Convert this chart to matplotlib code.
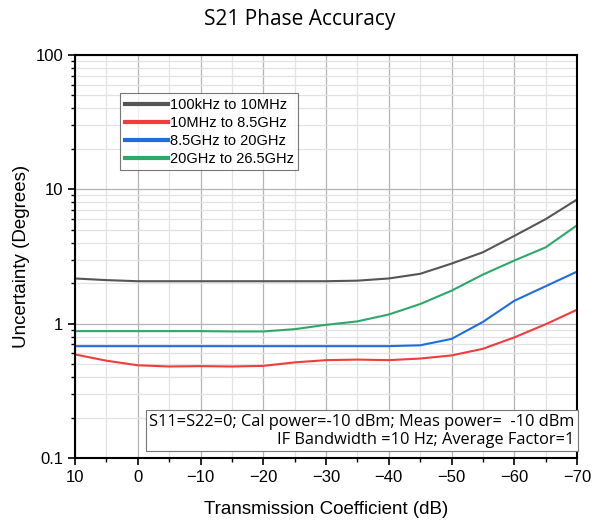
import matplotlib.pyplot as plt
from matplotlib.ticker import LogLocator, MultipleLocator, FixedLocator, NullFormatter

# transmission coefficient (dB)
tc = [10, 5, 0, -5, -10, -15, -20, -25, -30, -35, -40, -45, -50, -55, -60, -65, -70]

low = [2.17, 2.11, 2.07, 2.07, 2.07, 2.07, 2.07, 2.07, 2.07, 2.09, 2.17, 2.35, 2.8, 3.4, 4.5, 6.0, 8.4]
mid = [0.59, 0.53, 0.49, 0.48, 0.483, 0.48, 0.485, 0.515, 0.535, 0.54, 0.535, 0.55, 0.58, 0.65, 0.79, 0.99, 1.27]
high = [0.68, 0.68, 0.68, 0.68, 0.68, 0.68, 0.68, 0.68, 0.68, 0.68, 0.68, 0.69, 0.77, 1.03, 1.48, 1.9, 2.44]
top = [0.88, 0.88, 0.88, 0.88, 0.88, 0.875, 0.875, 0.91, 0.98, 1.04, 1.17, 1.40, 1.76, 2.32, 2.95, 3.7, 5.4]

labels = ['100kHz to 10MHz', '10MHz to 8.5GHz', '8.5GHz to 20GHz', '20GHz to 26.5GHz']
colors = ['#555555', '#f03c3c', '#1e6ee0', '#2ea86a']

fig = plt.figure(figsize=(6, 5.26), dpi=100)
ax = fig.add_axes([0.125, 0.1293, 0.8367, 0.7661])

for ys, c in zip([low, mid, high, top], colors):
    ax.plot(tc, ys, color=c, lw=1.5)

ax.set_yscale('log')
ax.set_ylim(0.1, 100)
ax.set_xlim(10, -70)

ax.xaxis.set_major_locator(MultipleLocator(10))
ax.xaxis.set_minor_locator(MultipleLocator(5))
ax.yaxis.set_major_locator(FixedLocator([0.1, 1, 10, 100]))
ax.yaxis.set_minor_locator(LogLocator(base=10, subs=range(2, 10)))
ax.yaxis.set_minor_formatter(NullFormatter())
ax.set_yticklabels(['0.1', '1', '10', '100'])

ax.grid(which='major', color='#b4b4b4', lw=0.9)
ax.grid(which='minor', color='#e2e2e2', lw=0.9)
ax.set_axisbelow(True)

for s in ax.spines.values():
    s.set_linewidth(1.5)
ax.tick_params(which='major', direction='out', length=5, width=1.2, labelsize=12)
ax.tick_params(which='minor', direction='out', length=3, width=1.0)
for lab in ax.get_xticklabels() + ax.get_yticklabels():
    lab.set_family('Liberation Sans')

ax.set_xlabel('Transmission Coefficient (dB)', fontsize=13.5, family='Liberation Sans', labelpad=12)
ax.set_ylabel('Uncertainty (Degrees)', fontsize=13.5, family='Liberation Sans', labelpad=4)
fig.suptitle('S21 Phase Accuracy', fontsize=15, family='Open Sans', y=0.982)

handles = [plt.Line2D([], [], color=c, lw=3) for c in colors]
leg = ax.legend(handles, labels, loc='upper left', bbox_to_anchor=(0.09, 0.905),
                prop={'family': 'Liberation Sans', 'size': 10.5}, frameon=True, fancybox=False,
                handlelength=3.0, handletextpad=0.1, borderpad=0.3, labelspacing=0.28,
                borderaxespad=0)
leg.get_frame().set_edgecolor('#555555')
leg.get_frame().set_linewidth(0.8)

ax.text(0.995, 0.025, 'S11=S22=0; Cal power=-10 dBm; Meas power=  -10 dBm\nIF Bandwidth =10 Hz; Average Factor=1',
        transform=ax.transAxes, ha='right', va='bottom', fontsize=11.8, family='Open Sans',
        multialignment='right', linespacing=1.2,
        bbox=dict(boxstyle='square,pad=0.2', fc='white', ec='#777777', lw=0.8))

fig.savefig('out.png', dpi=100)
